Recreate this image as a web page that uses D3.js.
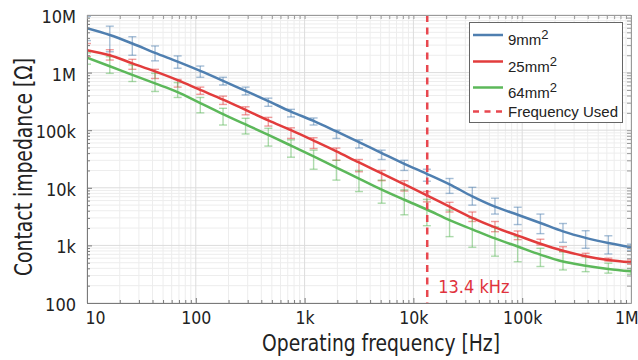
<!DOCTYPE html>
<html><head><meta charset="utf-8">
<script src="https://cdn.jsdelivr.net/npm/d3@7"></script>
<style>html,body{margin:0;padding:0;background:#fff;} svg{display:block;}</style>
</head><body><svg id="c" width="638" height="360"></svg>
<script>
// ---- data ----
const freqs = [10,16.2,26.1,42.2,68.1,110,178,287,464,750,1210,1960,3160,5110,8250,13300,21500,34800,56200,90900,147000,237000,383000,619000,1000000];

const z9  = [5.9e6,4.5e6,3.2e6,2.2e6,1.55e6,1.07e6,7.2e5,4.8e5,3.2e5,2.1e5,1.45e5,9.5e4,6.2e4,4.0e4,2.6e4,1.75e4,1.15e4,7.1e3,4.7e3,3.4e3,2.45e3,1.75e3,1.35e3,1.1e3,930];
const hi9 = [9.5e6,6.4e6,4.2e6,2.9e6,1.95e6,1.3e6,8.3e5,5.6e5,3.6e5,2.3e5,1.63e5,1.0e5,6.8e4,4.5e4,3.0e4,2.1e4,1.45e4,1.02e4,6.6e3,4.6e3,3.5e3,2.4e3,1.8e3,1.47e3,1.05e3];
const lo9 = [3.6e6,2.3e6,2.0e6,1.6e6,1.19e6,8.3e5,6.1e5,4.1e5,2.6e5,1.7e5,1.23e5,7.2e4,4.9e4,3.1e4,2.0e4,1.3e4,8.0e3,5.0e3,3.5e3,2.3e3,1.6e3,1.13e3,890,710,820];

const z25  = [2.45e6,2.0e6,1.45e6,1.05e6,7.4e5,5.0e5,3.4e5,2.25e5,1.48e5,1.0e5,6.6e4,4.3e4,2.75e4,1.78e4,1.15e4,7.4e3,4.7e3,3.0e3,2.05e3,1.48e3,1.07e3,810,650,560,510];
const hi25 = [3.2e6,2.5e6,1.7e6,1.14e6,7.6e5,5.6e5,3.9e5,2.55e5,1.67e5,1.1e5,7.4e4,4.9e4,3.1e4,2.0e4,1.33e4,8.6e3,5.6e3,3.8e3,2.6e3,1.78e3,1.28e3,950,730,600,560];
const lo25 = [1.9e6,1.65e6,1.14e6,7.9e5,5.6e5,4.2e5,2.8e5,1.85e5,1.18e5,7.2e4,4.8e4,3.0e4,1.9e4,1.33e4,8.8e3,5.7e3,3.8e3,2.6e3,1.73e3,1.26e3,1.02e3,780,640,535,470];

const z64  = [1.82e6,1.29e6,9.1e5,6.5e5,4.6e5,2.95e5,1.9e5,1.26e5,8.3e4,5.4e4,3.5e4,2.24e4,1.45e4,9.3e3,6.2e3,4.2e3,2.75e3,1.9e3,1.32e3,955,690,525,445,390,355];
const hi64 = [2.2e6,1.89e6,1.36e6,9.7e5,6.7e5,3.7e5,2.4e5,1.61e5,1.08e5,6.8e4,4.5e4,3.0e4,2.0e4,1.36e4,9.2e3,6.3e3,4.1e3,2.95e3,2.1e3,1.42e3,890,780,640,490,400];
const lo64 = [1.4e6,9.7e5,7.0e5,4.7e5,3.7e5,2.0e5,1.23e5,8.6e4,5.3e4,3.4e4,2.1e4,1.36e4,8.6e3,5.4e3,3.4e3,2.2e3,1.42e3,930,650,520,430,375,350,330,315];

const seriesNames = ["9mm", "25mm", "64mm"];
const usedFreq = 13400;
const usedLabel = "13.4 kHz";
const xTickVals = [10,100,1e3,1e4,1e5,1e6];
const xTickLabels = ["10","100","1k","10k","100k","1M"];
const yTickVals = [100,1e3,1e4,1e5,1e6,1e7];
const yTickLabels = ["100","1k","10k","100k","1M","10M"];
const xTitle = "Operating frequency [Hz]";
const yTitle = "Contact impedance [Ω]";
const legendLast = "Frequency Used";

// ---- layout ----
const L = 87, R = 631, T = 15, B = 303;
const NARROW = "'Liberation Sans Narrow','Arial Narrow','DejaVu Sans Condensed',sans-serif";
const SANS = "'Liberation Sans',Arial,sans-serif";
const colors = ["#4f7fb0", "#e23c3c", "#5cb85a"];

const svg = d3.select("#c");
const x = d3.scaleLog().domain([10, 1e6]).range([L, R]);
const y = d3.scaleLog().domain([100, 1e7]).range([B, T]);

const series = seriesNames.map((n, i) => ({
  name: n, color: colors[i],
  pts: freqs.map((f, k) => ({f, z: [z9, z25, z64][i][k], hi: [hi9, hi25, hi64][i][k], lo: [lo9, lo25, lo64][i][k]}))
}));

const minorX = [], minorY = [];
for (let d = 1; d < 6; d++) for (let m = 2; m <= 9; m++) minorX.push(m * Math.pow(10, d));
for (let d = 2; d < 7; d++) for (let m = 2; m <= 9; m++) minorY.push(m * Math.pow(10, d));

svg.append("defs").append("clipPath").attr("id", "plot")
  .append("rect").attr("x", L).attr("y", T).attr("width", R - L).attr("height", B - T);

// grid
const grid = svg.append("g");
grid.selectAll(".mgx").data(minorX).join("line")
  .attr("x1", d => x(d)).attr("x2", d => x(d)).attr("y1", T).attr("y2", B)
  .attr("stroke", "#ededed").attr("stroke-width", 1);
grid.selectAll(".mgy").data(minorY).join("line")
  .attr("y1", d => y(d)).attr("y2", d => y(d)).attr("x1", L).attr("x2", R)
  .attr("stroke", "#ededed").attr("stroke-width", 1);
grid.selectAll(".Mgx").data(xTickVals).join("line")
  .attr("x1", d => x(d)).attr("x2", d => x(d)).attr("y1", T).attr("y2", B)
  .attr("stroke", "#dcdcdc").attr("stroke-width", 1);
grid.selectAll(".Mgy").data(yTickVals).join("line")
  .attr("y1", d => y(d)).attr("y2", d => y(d)).attr("x1", L).attr("x2", R)
  .attr("stroke", "#dcdcdc").attr("stroke-width", 1);

const plot = svg.append("g").attr("clip-path", "url(#plot)");

// error bars
series.forEach(s => {
  const g = plot.append("g").attr("stroke", s.color).attr("stroke-opacity", 0.5).attr("stroke-width", 1.4);
  g.selectAll("line.v").data(s.pts).join("line").attr("class", "v")
    .attr("x1", d => x(d.f)).attr("x2", d => x(d.f)).attr("y1", d => y(d.hi)).attr("y2", d => y(d.lo));
  g.selectAll("line.t").data(s.pts).join("line").attr("class", "t")
    .attr("x1", d => x(d.f) - 4).attr("x2", d => x(d.f) + 4).attr("y1", d => y(d.hi)).attr("y2", d => y(d.hi));
  g.selectAll("line.b").data(s.pts).join("line").attr("class", "b")
    .attr("x1", d => x(d.f) - 4).attr("x2", d => x(d.f) + 4).attr("y1", d => y(d.lo)).attr("y2", d => y(d.lo));
});

// lines
const line = d3.line().x(d => x(d.f)).y(d => y(d.z)).curve(d3.curveMonotoneX);
series.forEach(s => {
  plot.append("path").attr("d", line(s.pts)).attr("fill", "none")
    .attr("stroke", s.color).attr("stroke-width", 2.5);
});

// frequency used
plot.append("line").attr("x1", x(usedFreq)).attr("x2", x(usedFreq)).attr("y1", T).attr("y2", B)
  .attr("stroke", "#e8474f").attr("stroke-width", 2.5).attr("stroke-dasharray", "7,5.5");
svg.append("text").attr("x", x(usedFreq) + 11).attr("y", 293).attr("fill", "#e0323c")
  .attr("font-family", NARROW).attr("font-size", 18).text(usedLabel);

// axes / frame
function styleAxis(g, col) {
  g.select(".domain").attr("stroke", col);
  g.selectAll(".tick line").attr("stroke", col);
}
const axB = svg.append("g").attr("transform", `translate(0,${B})`)
  .call(d3.axisBottom(x).tickValues(xTickVals).tickSizeInner(-5).tickSizeOuter(0).tickPadding(9)
    .tickFormat((d, i) => xTickLabels[i]));
axB.call(g => styleAxis(g, "#7a7a7a"));
axB.selectAll("text").attr("font-family", NARROW).attr("font-size", 17.5).attr("fill", "#222");
axB.selectAll(".tick").filter((d, i) => i === 0).select("text").attr("text-anchor", "start").attr("x", -2);
axB.selectAll(".tick").filter((d, i) => i === xTickVals.length - 1).select("text").attr("text-anchor", "end").attr("x", 7);
svg.append("g").attr("transform", `translate(0,${B})`)
  .call(d3.axisBottom(x).tickValues(minorX).tickSizeInner(-3).tickSizeOuter(0).tickFormat(""))
  .call(g => { g.select(".domain").remove(); g.selectAll(".tick line").attr("stroke", "#7a7a7a"); });

const axL = svg.append("g").attr("transform", `translate(${L},0)`)
  .call(d3.axisLeft(y).tickValues(yTickVals).tickSizeInner(-5).tickSizeOuter(0).tickPadding(11)
    .tickFormat((d, i) => yTickLabels[i]));
axL.call(g => styleAxis(g, "#7a7a7a"));
axL.selectAll("text").attr("font-family", NARROW).attr("font-size", 18).attr("fill", "#222").attr("dy", "0.42em");
svg.append("g").attr("transform", `translate(${L},0)`)
  .call(d3.axisLeft(y).tickValues(minorY).tickSizeInner(-3).tickSizeOuter(0).tickFormat(""))
  .call(g => { g.select(".domain").remove(); g.selectAll(".tick line").attr("stroke", "#7a7a7a"); });

const axT = svg.append("g").attr("transform", `translate(0,${T})`)
  .call(d3.axisTop(x).tickValues(xTickVals.concat(minorX)).tickSizeInner(-4).tickSizeOuter(0).tickFormat(""));
axT.call(g => styleAxis(g, "#9a9a9a"));
const axR = svg.append("g").attr("transform", `translate(${R},0)`)
  .call(d3.axisRight(y).tickValues(yTickVals.concat(minorY)).tickSizeInner(-4).tickSizeOuter(0).tickFormat(""));
axR.call(g => styleAxis(g, "#9a9a9a"));

// titles
svg.append("text").attr("x", 381).attr("y", 351).attr("text-anchor", "middle")
  .attr("font-family", NARROW).attr("font-size", 23).attr("fill", "#222")
  .attr("textLength", 238).attr("lengthAdjust", "spacingAndGlyphs").text(xTitle);
svg.append("text").attr("transform", "translate(32,167) rotate(-90)").attr("text-anchor", "middle")
  .attr("font-family", NARROW).attr("font-size", 24).attr("fill", "#222")
  .attr("textLength", 218).attr("lengthAdjust", "spacingAndGlyphs").text(yTitle);

// legend
const lg = svg.append("g");
lg.append("rect").attr("x", 469.5).attr("y", 22.5).attr("width", 153).attr("height", 100)
  .attr("fill", "#fff").attr("stroke", "#666").attr("stroke-width", 1);
const rowsY = [35, 61.5, 87.5];
series.forEach((s, i) => {
  lg.append("line").attr("x1", 473).attr("x2", 503).attr("y1", rowsY[i]).attr("y2", rowsY[i])
    .attr("stroke", s.color).attr("stroke-width", 2.5);
  const t = lg.append("text").attr("x", 508).attr("y", rowsY[i] + 10)
    .attr("font-family", SANS).attr("font-size", 15).attr("fill", "#222");
  t.append("tspan").text(s.name);
  t.append("tspan").attr("dy", -6).attr("font-size", 13).text("2");
});
lg.append("line").attr("x1", 473).attr("x2", 503).attr("y1", 111.5).attr("y2", 111.5)
  .attr("stroke", "#e8474f").attr("stroke-width", 2.5).attr("stroke-dasharray", "6,5.5");
lg.append("text").attr("x", 508).attr("y", 117).attr("font-family", SANS).attr("font-size", 15)
  .attr("fill", "#222").text(legendLast);
</script></body></html>
